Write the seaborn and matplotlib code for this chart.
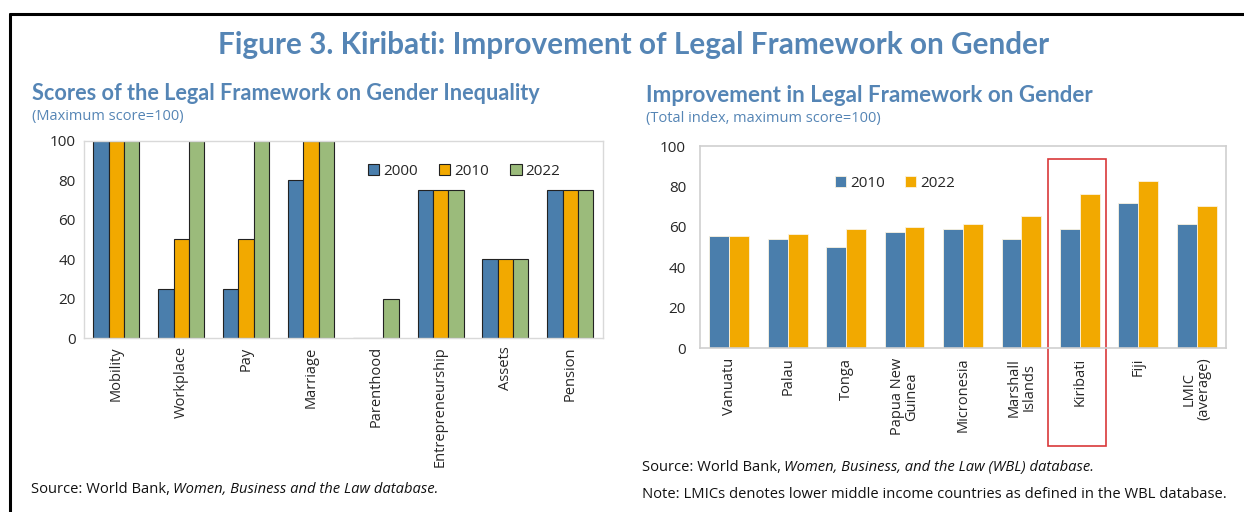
import matplotlib
matplotlib.use("Agg")
import matplotlib.pyplot as plt
from matplotlib.patches import Rectangle
from matplotlib.lines import Line2D
from matplotlib.transforms import IdentityTransform
import seaborn as sns
import pandas as pd

# ---- data -------------------------------------------------------------
areas = ["Mobility", "Workplace", "Pay", "Marriage", "Parenthood",
         "Entrepreneurship", "Assets", "Pension"]
score_2000 = [100, 25, 25, 80, 0, 75, 40, 75]
score_2010 = [100, 50, 50, 100, 0, 75, 40, 75]
score_2022 = [100, 100, 100, 100, 20, 75, 40, 75]

countries = ["Vanuatu", "Palau", "Tonga", "Papua New\nGuinea", "Micronesia",
             "Marshall\nIslands", "Kiribati", "Fiji", "LMIC\n(average)"]
index_2010 = [55.6, 53.8, 50.0, 57.5, 58.8, 53.8, 58.8, 71.9, 61.6]
index_2022 = [55.6, 56.3, 58.8, 60.0, 61.3, 65.6, 76.3, 82.5, 70.2]
highlight = "Kiribati"

BLUE = "#4A7EAC"
ORANGE = "#F2A900"
GREEN = "#9BBB7B"
TITLE_C = "#5585B5"

sns.set_theme(style="white")
plt.rcParams["font.family"] = ["Open Sans", "DejaVu Sans"]

left_df = pd.DataFrame({
    "area": areas * 3,
    "year": ["2000"] * 8 + ["2010"] * 8 + ["2022"] * 8,
    "score": score_2000 + score_2010 + score_2022,
})
right_df = pd.DataFrame({
    "country": countries * 2,
    "year": ["2010"] * 9 + ["2022"] * 9,
    "score": index_2010 + index_2022,
})

fig = plt.figure(figsize=(12.44, 5.12), dpi=100)
ax1 = fig.add_axes([0.0675, 0.3398, 0.417, 0.385])
ax2 = fig.add_axes([0.5627, 0.3203, 0.4228, 0.3945])

# ---- left chart -------------------------------------------------------
sns.barplot(data=left_df, x="area", y="score", hue="year", ax=ax1,
            palette=[BLUE, ORANGE, GREEN], saturation=1, width=0.71, gap=0,
            edgecolor="#222222", linewidth=0.8, errorbar=None)
ax1.set_ylim(0, 100)
ax1.set_xlim(-0.5, len(areas) - 0.5)
ax1.set_yticks(range(0, 101, 20))
ax1.set_xlabel("")
ax1.set_ylabel("")
ax1.set_xticks(range(len(areas)))
ax1.set_xticklabels(areas, rotation=90, fontsize=10.5)
ax1.set_xticks([i + 0.5 for i in range(len(areas) - 1)], minor=True)
ax1.tick_params(axis="x", which="major", length=0, pad=6)
ax1.tick_params(axis="x", which="minor", length=4, color="#d0d0d0", direction="in")
ax1.tick_params(axis="y", length=4, color="#d0d0d0", direction="out", labelsize=11, pad=2)
for s in ax1.spines.values():
    s.set_color("#d9d9d9")
    s.set_linewidth(1)
h, l = ax1.get_legend_handles_labels()
ax1.legend(h, l, ncol=3, frameon=False, loc="upper right",
           bbox_to_anchor=(0.945, 0.955), handlelength=0.75, handleheight=0.75,
           handletextpad=0.25, columnspacing=1.4, fontsize=11)

# ---- right chart ------------------------------------------------------
sns.barplot(data=right_df, x="country", y="score", hue="year", ax=ax2,
            palette=[BLUE, ORANGE], saturation=1, width=0.68, gap=0,
            edgecolor="#fbf3e0", linewidth=0.6, errorbar=None)
ax2.set_ylim(0, 100)
ax2.set_xlim(-0.5, len(countries) - 0.5)
ax2.set_yticks(range(0, 101, 20))
ax2.set_xlabel("")
ax2.set_ylabel("")
ax2.set_xticks(range(len(countries)))
ax2.set_xticklabels(countries, rotation=90, fontsize=10.5, linespacing=0.95)
ax2.tick_params(axis="x", length=0, pad=7)
ax2.tick_params(axis="y", length=4, color="#d0d0d0", direction="in", labelsize=11, pad=10)
for s in ax2.spines.values():
    s.set_color("#cfcfcf")
    s.set_linewidth(1.2)
h, l = ax2.get_legend_handles_labels()
ax2.legend(h, l, ncol=2, frameon=False, loc="upper left",
           bbox_to_anchor=(0.23, 0.92), handlelength=0.75, handleheight=0.75,
           handletextpad=0.25, columnspacing=1.3, fontsize=11)

# red box around the highlighted country, running down over its label
k = countries.index(highlight)
ax2.add_patch(Rectangle((k - 0.55, -48.5), 1.0, 142, fill=False,
                        edgecolor="#d9383a", linewidth=1.2, clip_on=False))

# ---- titles and notes -------------------------------------------------
fig.text(0.509, 0.913, "Figure 3. Kiribati: Improvement of Legal Framework on Gender",
         ha="center", va="center", fontsize=21.4, fontweight="bold",
         color=TITLE_C, family=["Lato", "DejaVu Sans"])
fig.text(0.026, 0.817, "Scores of the Legal Framework on Gender Inequality",
         ha="left", va="center", fontsize=15.6, fontweight="bold",
         color=TITLE_C, family=["Lato", "DejaVu Sans"])
fig.text(0.026, 0.773, "(Maximum score=100)", ha="left", va="center",
         fontsize=10.5, color=TITLE_C)
fig.text(0.519, 0.814, "Improvement in Legal Framework on Gender",
         ha="left", va="center", fontsize=16.1, fontweight="bold",
         color=TITLE_C, family=["Lato", "DejaVu Sans"])
fig.text(0.519, 0.769, "(Total index, maximum score=100)", ha="left", va="center",
         fontsize=10.5, color=TITLE_C)


def source_line(x, y, plain, italic):
    # plain part, then the italic title placed right after it
    t = fig.text(x, y, plain, ha="left", va="baseline", fontsize=10.6, color="#111111")
    fig.canvas.draw()
    bb = t.get_window_extent(fig.canvas.get_renderer())
    fig.text(bb.x1 + 3, y * fig.bbox.height, italic, ha="left", va="baseline",
             fontsize=10.6, color="#111111", style="italic",
             transform=IdentityTransform())


source_line(0.025, 0.038, "Source: World Bank,", "Women, Business and the Law database.")
source_line(0.516, 0.08, "Source: World Bank,", "Women, Business, and the Law (WBL) database.")
fig.text(0.516, 0.027, "Note: LMICs denotes lower middle income countries as defined in the WBL database.",
         ha="left", va="baseline", fontsize=10.6, color="#111111")

# frame lines (top and left)
fig.add_artist(Line2D([0.008, 1.0], [0.972, 0.972], transform=fig.transFigure,
                      color="black", linewidth=2.2))
fig.add_artist(Line2D([0.008, 0.008], [0.0, 0.972], transform=fig.transFigure,
                      color="black", linewidth=2.2))

fig.savefig("out.png", dpi=100, facecolor="white")
